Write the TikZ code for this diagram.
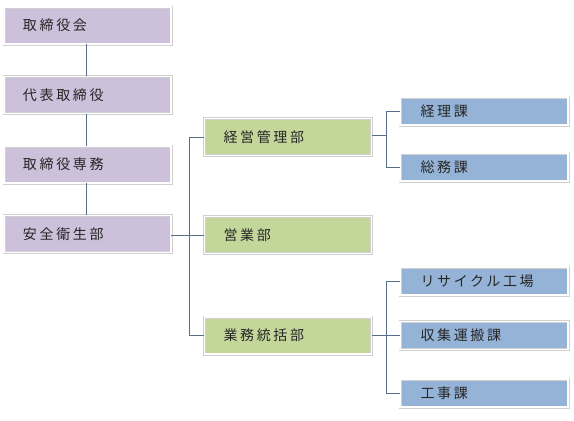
\documentclass[tikz,border=0pt]{standalone}
\usepackage{fontspec}
\newfontfamily\jp{Noto Sans CJK JP}[LetterSpace=19]
\definecolor{purp}{HTML}{CCC0DA}
\definecolor{grn}{HTML}{C4D79B}
\definecolor{blu}{HTML}{95B3D7}
\definecolor{ln}{HTML}{5A6E8C}
\definecolor{edge}{HTML}{D0D0D0}
\tikzset{
  box/.style={draw=edge, line width=0.6pt, double=white, double distance=1.8pt,
    inner xsep=19pt, inner ysep=0pt, text width=129pt, align=left,
    font=\jp\fontsize{14}{16}\selectfont, anchor=center, text=black!85},
  pbox/.style={box, fill=purp, minimum height=37pt},
  gbox/.style={box, fill=grn, minimum height=37pt},
  bbox/.style={box, fill=blu, minimum height=28pt, inner xsep=20.5pt, text width=127pt},
  conn/.style={draw=ln, line width=0.9pt}
}
\begin{document}
\begin{tikzpicture}[x=1pt,y=-1pt]
\useasboundingbox (0,0) rectangle (574,421);
\node[pbox] (p1) at (87.5,25.5) {\raisebox{-1.5pt}{取締役会}};
\node[pbox] (p2) at (87.5,95) {\raisebox{-1.5pt}{代表取締役}};
\node[pbox] (p3) at (87.5,164.5) {\raisebox{-1.5pt}{取締役専務}};
\node[pbox] (p4) at (87.5,234) {\raisebox{-1.5pt}{安全衛生部}};
\node[gbox] (g1) at (288,137) {経営管理部};
\node[gbox] (g2) at (288,235) {営業部};
\node[gbox] (g3) at (288,335.5) {業務統括部};
\node[bbox] (b1) at (484,111) {経理課};
\node[bbox] (b2) at (484,167) {総務課};
\node[bbox] (b3) at (484,281) {リサイクル工場};
\node[bbox] (b4) at (484,335.5) {収集運搬課};
\node[bbox] (b5) at (484,393) {工事課};
\draw[conn] ([xshift=-1.5pt]p1.south) -- ([xshift=-1.5pt]p2.north);
\draw[conn] ([xshift=-1.5pt]p2.south) -- ([xshift=-1.5pt]p3.north);
\draw[conn] ([xshift=-1.5pt]p3.south) -- ([xshift=-1.5pt]p4.north);
\coordinate (t1) at ([xshift=-15pt]g1.west);
\draw[conn] (g1.west) -- (t1) |- (g3.west);
\draw[conn] (p4.east |- g2.west) -- (g2.west);
\coordinate (j1) at ([xshift=-13pt]b1.west);
\draw[conn] (b1.west) -- (j1) |- (b2.west);
\draw[conn] ([yshift=2pt]g1.east) -- ([yshift=2pt]g1.east -| j1);
\coordinate (j2) at ([xshift=-13pt]b3.west);
\draw[conn] (b3.west) -- (j2) |- (b5.west);
\draw[conn] (g3.east) -- (b4.west);
\end{tikzpicture}
\end{document}
